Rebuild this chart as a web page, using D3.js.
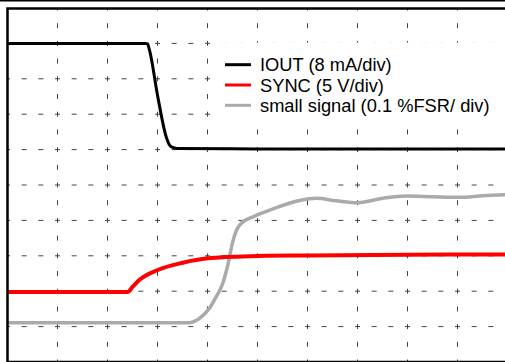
<!DOCTYPE html>
<html>
<head>
<meta charset="utf-8">
<script src="https://cdn.jsdelivr.net/npm/d3@7"></script>
<style>
  html, body { margin: 0; padding: 0; background: #fff; }
  svg { display: block; }
  .legendText { font-family: "Liberation Sans", Arial, sans-serif; font-size: 18.3px; fill: #000; }
</style>
</head>
<body>
<div id="chart"></div>
<script>
// Traces in scope divisions: x = 0..10 time div, y = 0..10 vertical div (bottom = 0)
const iout = [[0, 9.0], [2.76, 9.0], [2.80, 8.985], [2.84, 8.81], [3.006, 7.49], [3.174, 6.36],
    [3.24, 6.13], [3.306, 6.06], [3.40, 6.03], [5, 6.02], [10, 6.02]];
const sync = [[0, 1.98], [2.406, 1.98], [2.5, 2.12], [2.64, 2.32], [3.006, 2.60], [3.506, 2.805],
    [4.006, 2.93], [4.84, 2.99], [6, 3.01], [8, 3.03], [10, 3.04]];
const smallSignal = [[0, 1.11], [3.64, 1.11], [3.706, 1.13], [3.84, 1.234], [4.04, 1.517], [4.174, 1.845],
    [4.306, 2.223], [4.406, 2.74], [4.506, 3.40], [4.574, 3.70], [4.64, 3.86], [4.74, 3.99],
    [4.84, 4.06], [5.006, 4.16], [5.34, 4.342], [5.84, 4.562], [6.174, 4.624], [6.574, 4.556],
    [7.006, 4.5], [7.506, 4.624], [7.974, 4.69], [8.506, 4.67], [9.04, 4.653], [9.506, 4.698], [10, 4.73]];

const seriesNames = ['IOUT (8 mA/div)', 'SYNC (5 V/div)', 'small signal (0.1 %FSR/ div)'];
const seriesColors = ['#000000', '#ff0000', '#aaaaaa'];
const seriesWidths = [3, 4, 3.5];
const xDivs = d3.range(1, 10);
const yDivs = d3.range(1, 10);

const W = 505, H = 362;
const frame = { left: 7.5, top: 8, right: 507.5, bottom: 362 };

const svg = d3.select('#chart')
    .append('svg')
    .attr('width', W)
    .attr('height', H);

const xScale = d3.scaleLinear().domain([0, 10]).range([frame.left, frame.right]);
const yScale = d3.scaleLinear().domain([0, 10]).range([frame.bottom, frame.top]);

const divW = xScale(1) - xScale(0);
const divH = yScale(0) - yScale(1);

// Dashed graticule, dashes centred on major and minor marks
svg.append('g')
    .selectAll('line')
    .data(xDivs)
    .join('line')
    .attr('x1', d => xScale(d))
    .attr('x2', d => xScale(d))
    .attr('y1', frame.top)
    .attr('y2', frame.bottom)
    .attr('stroke', '#444')
    .attr('stroke-width', 1)
    .attr('stroke-dasharray', '5,' + (divH / 2 - 5))
    .attr('stroke-dashoffset', 2.5);

svg.append('g')
    .selectAll('line')
    .data(yDivs)
    .join('line')
    .attr('x1', frame.left)
    .attr('x2', W)
    .attr('y1', d => yScale(d))
    .attr('y2', d => yScale(d))
    .attr('stroke', '#444')
    .attr('stroke-width', 1)
    .attr('stroke-dasharray', '5,' + (divW / 3 - 5))
    .attr('stroke-dashoffset', 2.5);

// Legend background hides the grid behind it
svg.append('rect')
    .attr('x', 212)
    .attr('y', 42.5)
    .attr('width', W - 212)
    .attr('height', 84.5)
    .attr('fill', '#fff');

// Traces
const line = d3.line()
    .x(d => xScale(d[0]))
    .y(d => yScale(d[1]))
    .curve(d3.curveMonotoneX);

const traces = [smallSignal, sync, iout];
const order = [2, 1, 0];
svg.append('g')
    .selectAll('path')
    .data(traces)
    .join('path')
    .attr('d', line)
    .attr('fill', 'none')
    .attr('stroke', (d, i) => seriesColors[order[i]])
    .attr('stroke-width', (d, i) => seriesWidths[order[i]])
    .attr('stroke-linejoin', 'round');

// Frame
svg.append('line')
    .attr('x1', 0).attr('x2', W)
    .attr('y1', 0.75).attr('y2', 0.75)
    .attr('stroke', '#000')
    .attr('stroke-width', 1.5);

svg.append('path')
    .attr('d', 'M' + frame.right + ',' + (frame.top + 0.5) + 'H' + frame.left + 'V' + frame.bottom + 'H' + frame.right)
    .attr('fill', 'none')
    .attr('stroke', '#000')
    .attr('stroke-width', 2.5);

// Legend
const legend = svg.append('g')
    .selectAll('g')
    .data(seriesNames)
    .join('g')
    .attr('transform', (d, i) => 'translate(225,' + (64.7 + i * 20.3) + ')');

legend.append('line')
    .attr('x1', 0)
    .attr('x2', 26)
    .attr('stroke', (d, i) => seriesColors[i])
    .attr('stroke-width', 3);

legend.append('text')
    .attr('class', 'legendText')
    .attr('x', 35)
    .attr('y', 6.5)
    .text(d => d);
</script>
</body>
</html>
